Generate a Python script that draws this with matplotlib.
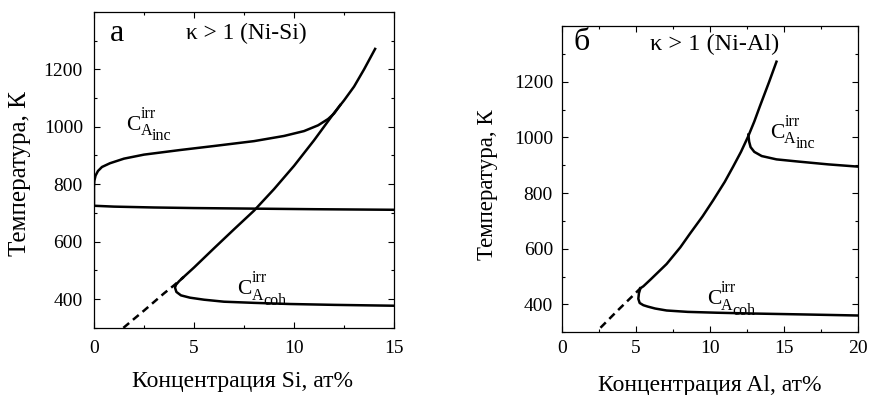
import matplotlib
matplotlib.use('Agg')
import matplotlib.pyplot as plt
from matplotlib.ticker import MultipleLocator

plt.rcParams['font.family'] = ['Liberation Serif', 'DejaVu Serif']

# Ni-Si (panel a)
si_dash_x = [1.47, 2.0, 2.5, 3.0, 3.5, 4.0, 4.45]
si_dash_T = [300, 331, 360, 390, 420, 448, 475]
si_solv_x = [4.45, 5.0, 6.0, 7.0, 8.0, 9.0, 10.0, 11.0, 12.0, 12.5, 13.0, 13.5, 14.05]
si_solv_T = [475, 510, 577, 643, 708, 783, 864, 953, 1048, 1092, 1140, 1200, 1271]
si_inc_x = [0.0, 0.0, 0.02, 0.08, 0.2, 0.4, 0.8, 1.5, 2.5, 4.3, 6.0, 8.0, 9.5, 10.5, 11.2, 11.7, 12.0, 12.3]
si_inc_T = [725, 790, 812, 830, 846, 860, 873, 889, 903, 919, 933, 950, 968, 985, 1005, 1027, 1046, 1075]
si_hor_x = [0, 1, 3, 5, 8, 11, 15]
si_hor_T = [725, 722, 719, 717, 715, 713, 711]
si_coh_x = [4.45, 4.25, 4.1, 4.05, 4.12, 4.35, 4.8, 5.5, 6.5, 8.0, 9.8, 12.0, 15.0]
si_coh_T = [475, 462, 450, 440, 425, 413, 405, 398, 391, 387, 383, 380, 377]

# Ni-Al (panel b)
al_dash_x = [2.6, 3.2, 3.8, 4.4, 5.0, 5.3]
al_dash_T = [316, 348, 380, 411, 442, 458]
al_solv_x = [5.3, 5.5, 6.0, 7.07, 8.0, 8.65, 9.5, 10.22, 11.0, 11.57, 12.1, 12.59, 13.0, 13.38, 14.0, 14.5]
al_solv_T = [458, 465, 490, 545, 605, 654, 716, 774, 840, 895, 948, 1004, 1057, 1112, 1199, 1272]
al_inc_x = [12.6, 12.65, 12.75, 13.0, 13.5, 14.5, 16.0, 18.0, 20.0]
al_inc_T = [1010, 985, 965, 948, 933, 921, 913, 903, 895]
al_coh_x = [5.3, 5.2, 5.16, 5.25, 5.5, 5.8, 6.3, 7.07, 8.5, 10.45, 13.0, 16.1, 20.0]
al_coh_T = [458, 440, 420, 405, 397, 392, 385, 378, 373, 370, 367, 364, 360]

fig = plt.figure(figsize=(8.7, 3.95), dpi=100)
ax1 = fig.add_axes([0.108, 0.170, 0.345, 0.800])
ax2 = fig.add_axes([0.646, 0.159, 0.340, 0.775])

lw = 1.8
ax1.plot(si_dash_x, si_dash_T, 'k', lw=lw, linestyle=(0, (3, 2)))
ax1.plot(si_solv_x, si_solv_T, 'k', lw=lw)
ax1.plot(si_inc_x, si_inc_T, 'k', lw=lw)
ax1.plot(si_hor_x, si_hor_T, 'k', lw=lw)
ax1.plot(si_coh_x, si_coh_T, 'k', lw=lw)

ax2.plot(al_dash_x, al_dash_T, 'k', lw=lw, linestyle=(0, (3, 2)))
ax2.plot(al_solv_x, al_solv_T, 'k', lw=lw)
ax2.plot(al_inc_x, al_inc_T, 'k', lw=lw)
ax2.plot(al_coh_x, al_coh_T, 'k', lw=lw)


def c_label(ax, x, y, sub):
    # C^irr_{A_sub} built from pieces so that the sub-subscript is not shrunk
    ax.annotate('C', (x, y), fontsize=15.5, ha='left', va='baseline')
    for txt, dx, dy in [('irr', 10.4, 8.6), ('A', 10.4, -3.8), (sub, 18.4, -7.4)]:
        ax.annotate(txt, (x, y), xytext=(dx, dy), textcoords='offset points',
                    fontsize=11.5, ha='left', va='baseline')


ax1.text(1.15, 1324, 'а', fontsize=23, ha='center', va='center')
ax1.text(7.63, 1326, 'κ > 1 (Ni-Si)', fontsize=16.8, ha='center', va='center')
c_label(ax1, 1.6, 988, 'inc')
c_label(ax1, 7.17, 417, 'coh')

ax2.text(1.33, 1342, 'б', fontsize=23, ha='center', va='center')
ax2.text(10.34, 1334, 'κ > 1 (Ni-Al)', fontsize=17.5, ha='center', va='center')
c_label(ax2, 14.05, 998, 'inc')
c_label(ax2, 9.78, 400, 'coh')

for ax, xmax, ypad, xpad in [(ax1, 15, 8, 9), (ax2, 20, 6.5, 5.5)]:
    ax.set_xlim(0, xmax)
    ax.set_ylim(300, 1400)
    ax.xaxis.set_major_locator(MultipleLocator(5))
    ax.xaxis.set_minor_locator(MultipleLocator(2.5))
    ax.yaxis.set_minor_locator(MultipleLocator(100))
    ax.set_yticks([400, 600, 800, 1000, 1200])
    ax.tick_params(which='both', direction='in', top=True, right=True, labelsize=14, width=0.8)
    ax.tick_params(which='major', length=4)
    ax.tick_params(which='minor', length=2.5)
    ax.tick_params(axis='y', pad=ypad)
    ax.tick_params(axis='x', pad=xpad)
    for s in ax.spines.values():
        s.set_linewidth(0.9)

W, H = 870, 395
fig.text(20 / W, 1 - 173.5 / H, 'Температура, К', rotation=90, fontsize=18, ha='center', va='center')
fig.text(243 / W, 1 - 382 / H, 'Концентрация Si, ат%', fontsize=17, ha='center', va='center')
fig.text(488 / W, 1 - 185 / H, 'Температура, К', rotation=90, fontsize=16.5, ha='center', va='center')
fig.text(710 / W, 1 - 385 / H, 'Концентрация Al, ат%', fontsize=17, ha='center', va='center')

fig.savefig('out.png', dpi=100)
